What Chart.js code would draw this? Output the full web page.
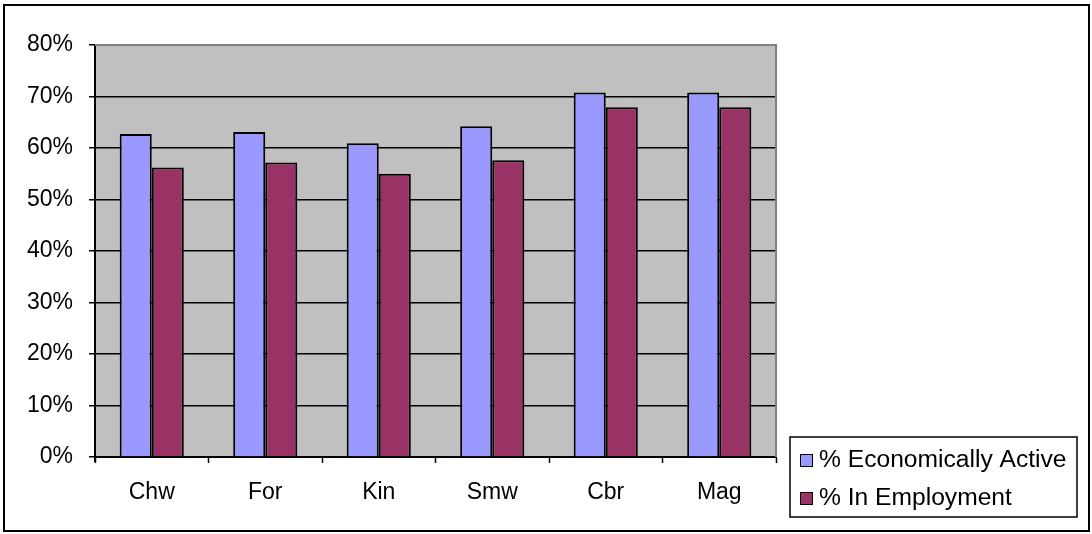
<!DOCTYPE html>
<html>
<head>
<meta charset="utf-8">
<script src="https://cdn.jsdelivr.net/npm/chart.js@4.4.1/dist/chart.umd.min.js"></script>
<style>
  html, body { margin: 0; padding: 0; background: #ffffff; }
  #wrap { width: 1092px; height: 534px; }
</style>
</head>
<body>
<div id="wrap"><canvas id="c" width="1092" height="534"></canvas></div>
<script>
// Area labels and the two rates for each area (fractions of population)
const areas = ['Chw', 'For', 'Kin', 'Smw', 'Cbr', 'Mag'];
const economicallyActive = [0.627, 0.631, 0.609, 0.642, 0.708, 0.708];
const inEmployment = [0.562, 0.572, 0.550, 0.576, 0.679, 0.679];
const seriesNames = ['% Economically Active', '% In Employment'];
const yTicks = [0, 0.1, 0.2, 0.3, 0.4, 0.5, 0.6, 0.7, 0.8];

const FONT = 'Liberation Sans, Arial, sans-serif';

// Grey plot background, outer frame and plot-area frame
const framePlugin = {
  id: 'frame',
  beforeDraw(chart) {
    const { ctx, chartArea: a } = chart;
    ctx.save();
    ctx.fillStyle = '#ffffff';
    ctx.fillRect(0, 0, chart.width, chart.height);
    ctx.fillStyle = '#c0c0c0';
    ctx.fillRect(a.left, a.top, a.right - a.left, a.bottom - a.top);
    ctx.restore();
  },
  afterDraw(chart) {
    const { ctx, chartArea: a } = chart;
    ctx.save();
    // plot area edge (top and right)
    ctx.strokeStyle = '#808080';
    ctx.lineWidth = 2;
    ctx.beginPath();
    ctx.moveTo(a.left, a.top);
    ctx.lineTo(a.right, a.top);
    ctx.lineTo(a.right, a.bottom);
    ctx.stroke();
    // value axis runs slightly past the category axis
    ctx.strokeStyle = '#000000';
    ctx.lineWidth = 2;
    ctx.beginPath();
    ctx.moveTo(a.left, a.bottom);
    ctx.lineTo(a.left, a.bottom + 5);
    ctx.stroke();
    // outer chart frame
    ctx.strokeRect(4, 5, 1085, 526);
    ctx.restore();
  }
};

// Boxed legend in the lower right corner
const boxLegend = {
  id: 'boxLegend',
  afterDraw(chart) {
    const { ctx } = chart;
    const x0 = 790, y0 = 437, w = 287, h = 80;
    ctx.save();
    ctx.fillStyle = '#ffffff';
    ctx.fillRect(x0, y0, w, h);
    ctx.strokeStyle = '#000000';
    ctx.lineWidth = 1.5;
    ctx.strokeRect(x0, y0, w, h);
    const rows = [460, 498];
    chart.data.datasets.forEach((ds, i) => {
      const cy = rows[i];
      ctx.fillStyle = ds.backgroundColor;
      ctx.fillRect(800, cy - 6, 12, 12);
      ctx.strokeStyle = '#000000';
      ctx.lineWidth = 1;
      ctx.strokeRect(800.5, cy - 5.5, 12, 12);
      ctx.save();
      ctx.translate(819, cy);
      ctx.scale(1.07, 1);
      ctx.fillStyle = '#000000';
      ctx.font = '23px ' + FONT;
      ctx.textAlign = 'left';
      ctx.textBaseline = 'middle';
      ctx.fillText(ds.label, 0, 1);
      ctx.restore();
    });
    ctx.restore();
  }
};

new Chart(document.getElementById('c'), {
  type: 'bar',
  data: {
    labels: areas,
    datasets: [
      {
        label: seriesNames[0],
        data: economicallyActive,
        backgroundColor: '#9999ff',
        borderColor: '#000000',
        borderWidth: 2,
        categoryPercentage: 0.565,
        barPercentage: 1.0
      },
      {
        label: seriesNames[1],
        data: inEmployment,
        backgroundColor: '#993366',
        borderColor: '#000000',
        borderWidth: 2,
        categoryPercentage: 0.565,
        barPercentage: 1.0
      }
    ]
  },
  options: {
    responsive: false,
    animation: false,
    devicePixelRatio: 1,
    layout: { padding: { left: 0, top: 45, right: 316, bottom: 0 } },
    plugins: {
      legend: { display: false },
      tooltip: { enabled: false }
    },
    scales: {
      x: {
        offset: true,
        grid: {
          offset: true,
          drawOnChartArea: false,
          drawTicks: true,
          tickLength: 6,
          tickColor: '#000000',
          tickWidth: 1.5
        },
        border: { display: true, color: '#000000', width: 2 },
        ticks: {
          color: '#000000',
          font: { family: FONT, size: 23 },
          padding: 16,
          maxRotation: 0
        },
        afterFit(scale) { scale.height = 77; }
      },
      y: {
        min: 0,
        max: 0.8,
        afterBuildTicks(scale) {
          scale.ticks = yTicks.map(v => ({ value: v }));
        },
        grid: {
          color: ctx => (ctx.tick && ctx.tick.value >= 0.8) ? 'rgba(0,0,0,0)' : '#000000',
          lineWidth: 1.5,
          drawTicks: true,
          tickLength: 6,
          tickColor: '#000000',
          tickWidth: 1.5
        },
        border: { display: true, color: '#000000', width: 2 },
        ticks: {
          color: '#000000',
          font: { family: FONT, size: 23 },
          padding: 16,
          callback: v => Math.round(v * 100) + '%'
        },
        afterFit(scale) { scale.width = 95; }
      }
    }
  },
  plugins: [framePlugin, boxLegend]
});
</script>
</body>
</html>
